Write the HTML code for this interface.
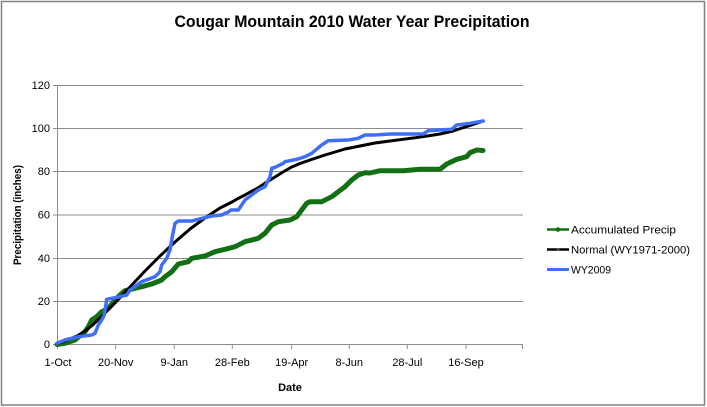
<!DOCTYPE html>
<html><head><meta charset="utf-8"><style>
html,body{margin:0;padding:0;background:#fff;}
svg{display:block;}
text{font-family:"Liberation Sans",sans-serif;}
</style></head><body>
<svg width="707" height="407" viewBox="0 0 707 407" xmlns="http://www.w3.org/2000/svg">
<rect x="0" y="0" width="707" height="407" fill="#fff"/>
<rect x="1.5" y="1.5" width="703" height="403.5" fill="none" stroke="#808080" stroke-width="1.5"/>
<text x="352" y="27" font-size="17" font-weight="bold" text-anchor="middle" textLength="355" lengthAdjust="spacingAndGlyphs">Cougar Mountain 2010 Water Year Precipitation</text>
<!-- gridlines -->
<g stroke="#8c8c8c" stroke-width="1">
<line x1="57" y1="85.5" x2="523" y2="85.5"/>
<line x1="57" y1="128.5" x2="523" y2="128.5"/>
<line x1="57" y1="171.5" x2="523" y2="171.5"/>
<line x1="57" y1="215" x2="523" y2="215"/>
<line x1="57" y1="258.5" x2="523" y2="258.5"/>
<line x1="57" y1="301.5" x2="523" y2="301.5"/>
<line x1="57.5" y1="85" x2="57.5" y2="344"/>
<line x1="53" y1="344.5" x2="523" y2="344.5"/>
<line x1="53" y1="85.5" x2="57" y2="85.5"/>
<line x1="53" y1="128.5" x2="57" y2="128.5"/>
<line x1="53" y1="171.5" x2="57" y2="171.5"/>
<line x1="53" y1="215" x2="57" y2="215"/>
<line x1="53" y1="258.5" x2="57" y2="258.5"/>
<line x1="53" y1="301.5" x2="57" y2="301.5"/>
<line x1="57.5" y1="344" x2="57.5" y2="349"/>
<line x1="115.7" y1="344" x2="115.7" y2="349"/>
<line x1="174.3" y1="344" x2="174.3" y2="349"/>
<line x1="232.3" y1="344" x2="232.3" y2="349"/>
<line x1="291.7" y1="344" x2="291.7" y2="349"/>
<line x1="349.3" y1="344" x2="349.3" y2="349"/>
<line x1="407.3" y1="344" x2="407.3" y2="349"/>
<line x1="466" y1="344" x2="466" y2="349"/>
<line x1="522.5" y1="344" x2="522.5" y2="349"/>
</g>
<!-- y labels -->
<g font-size="11" text-anchor="end" fill="#000">
<text x="50" y="89">120</text>
<text x="50" y="132">100</text>
<text x="50" y="175">80</text>
<text x="50" y="218.5">60</text>
<text x="50" y="262">40</text>
<text x="50" y="305">20</text>
<text x="50" y="348">0</text>
</g>
<g font-size="11" text-anchor="middle" fill="#000">
<text x="58" y="366">1-Oct</text>
<text x="115.7" y="366">20-Nov</text>
<text x="174.3" y="366">9-Jan</text>
<text x="232.3" y="366">28-Feb</text>
<text x="291.7" y="366">19-Apr</text>
<text x="349.3" y="366">8-Jun</text>
<text x="407.3" y="366">28-Jul</text>
<text x="466" y="366">16-Sep</text>
</g>
<text x="290" y="391" font-size="11" font-weight="bold" text-anchor="middle">Date</text>
<text transform="translate(21,215) rotate(-90)" font-size="11" font-weight="bold" text-anchor="middle" textLength="100" lengthAdjust="spacingAndGlyphs">Precipitation (inches)</text>
<!-- green accumulated -->
<polyline fill="none" stroke="#136f13" stroke-width="5" stroke-linejoin="round" stroke-linecap="round" points="57,344.5 65,343.3 75,340 85,331.7 88.3,326.7 91.7,320 96.7,316.7 101.7,311.7 108.3,308.3 115,300 120,295 125,290.7 135,288.3 141.7,286.7 151.7,284 161.7,280 165,276.7 171.7,271.7 178.3,264 188.3,261.7 191.7,258.3 205,256 215,251.7 225,249.3 235,246.7 245,241.7 258.3,238.3 265,233.3 271.7,225 278.3,221.7 290,220 296.7,216.7 301.7,210 306.7,203.3 310,201.7 321.7,201.7 331.7,196.7 338.3,191.7 345,186.7 351.7,180 358.3,175 365,172.7 370,173 380,170.7 403.3,170.7 420,169.3 440,169.3 446.7,164 456.7,159.3 466.7,156.7 470,152.7 476.7,150 483,150.5"/>
<!-- black normal -->
<polyline fill="none" stroke="#000" stroke-width="3" stroke-linejoin="round" stroke-linecap="round" points="57,343.5 64,341.5 70,339 78,335.5 85,331 92,325.5 100,318 107,311 115,303 122,295.5 130,287 137.5,279 145,271 152.5,263.5 160,256 167.5,249 175,242 182.5,235.5 190,229 197.5,223.5 205,218 212.5,213 220,208 226,205 232,202 238,198.5 245,195 251,191.5 258,188 266,182.5 275,177 283,172 291.7,167 300,163.5 310,160 325,155 335,152 345,149 360,146 375,143 390,141 403,139.3 415,137.8 427,136 440,134 453,131 462,128 470,125.5 476,123.5 482,121.5"/>
<!-- blue WY2009 -->
<polyline fill="none" stroke="#3f6ef7" stroke-width="3.5" stroke-linejoin="round" stroke-linecap="round" points="57,343.3 65,340 78.3,336.7 91.7,335 95,333.3 98.3,325 101.7,320 104.3,315 106.7,299.3 120,296.7 126.7,295 130,290 141.7,281.7 155,276.7 160,271.7 161.7,265 166.7,258.3 170,250 172.3,236.7 175,223.3 178.3,221 191.7,221 198.3,219.3 211.7,216 221.7,215 228.3,212 231,210 238.3,210 245,200 251.7,195 258.3,190 265,186.7 270,176.7 271.7,168.3 275,167.3 283.3,163.3 285,161.7 296.7,159.3 300,158.3 305,156.7 311.7,153.3 321.7,145 328.3,140.7 348.3,140 358.3,138.3 365,135 375,135 390,134 423.3,134 428.3,130.7 451.7,129.3 456.7,125 470,123.3 483.3,121"/>
<!-- legend -->
<line x1="547" y1="229.5" x2="569" y2="229.5" stroke="#136f13" stroke-width="2.5"/>
<circle cx="558" cy="229.5" r="2.3" fill="#136f13"/>
<line x1="547" y1="249.5" x2="569" y2="249.5" stroke="#000" stroke-width="2.5"/>
<circle cx="558" cy="249.5" r="1.5" fill="#555"/>
<line x1="547" y1="269.5" x2="569" y2="269.5" stroke="#3f6ef7" stroke-width="3"/>
<g font-size="11" fill="#000">
<text x="571" y="233.5" textLength="105" lengthAdjust="spacingAndGlyphs">Accumulated Precip</text>
<text x="571" y="253.5" textLength="119" lengthAdjust="spacingAndGlyphs">Normal (WY1971-2000)</text>
<text x="571" y="273.5" textLength="40" lengthAdjust="spacingAndGlyphs">WY2009</text>
</g>
</svg>
</body></html>
